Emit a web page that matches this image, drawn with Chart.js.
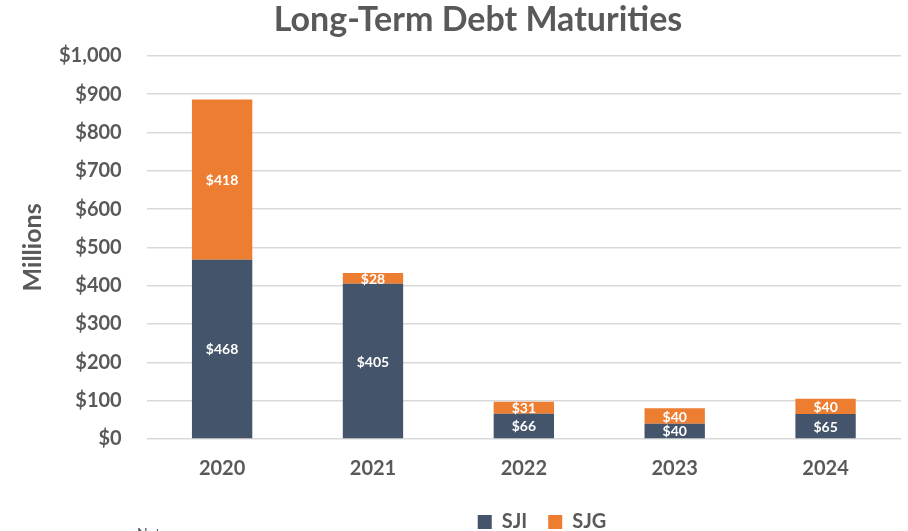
<!DOCTYPE html>
<html>
<head>
<meta charset="utf-8">
<script src="https://cdn.jsdelivr.net/npm/chart.js@4.4.0/dist/chart.umd.min.js"></script>
<style>
  html, body { margin: 0; padding: 0; background: #fff; overflow: hidden; }
  #wrap { position: relative; width: 908px; height: 531px; }
  #note { position: absolute; left: 137px; top: 524px; font: 14px Lato, sans-serif; color: #44546A; }
</style>
</head>
<body>
<div id="wrap">
  <canvas id="debt-chart" width="908" height="531"></canvas>
  <div id="note">Note:</div>
</div>
<script>
var years = ['2020', '2021', '2022', '2023', '2024'];
var sji = [468, 405, 66, 40, 65];
var sjg = [418, 28, 31, 40, 40];
var yTicks = [0, 100, 200, 300, 400, 500, 600, 700, 800, 900, 1000];

var font = 'Lato, "Open Sans", sans-serif';

// draws the $ labels in the middle of each bar segment
var barLabels = {
    id: 'barLabels',
    afterDatasetsDraw: function(chart){
        var ctx = chart.ctx;
        ctx.save();
        ctx.fillStyle = '#fff';
        ctx.font = 'bold 14px ' + font;
        ctx.textAlign = 'center';
        ctx.textBaseline = 'middle';
        chart.data.datasets.forEach(function(ds, i){
            chart.getDatasetMeta(i).data.forEach(function(bar, j){
                var y = (bar.y + bar.base) / 2;
                ctx.fillText('$' + ds.data[j], bar.x, y + 1);
            });
        });
        ctx.restore();
    }
};

// title and legend sit right of the canvas centre in the original
var shiftBlocks = {
    id: 'shiftBlocks',
    afterLayout: function(chart){
        chart.titleBlock.left += 15;
        chart.titleBlock.right += 15;
        chart.legend.left += 79;
        chart.legend.right += 79;
    }
};

var ctx = document.getElementById('debt-chart').getContext('2d');
var data = {
    labels: years,
    datasets: [
        {
            label: 'SJI',
            data: sji,
            backgroundColor: '#44546A',
            categoryPercentage: 1,
            barPercentage: 0.4
        },
        {
            label: 'SJG',
            data: sjg,
            backgroundColor: '#ED7D31',
            categoryPercentage: 1,
            barPercentage: 0.4
        }
    ]
};
var options = {
    responsive: false,
    animation: false,
    layout: { padding: { left: 25, right: 7, top: 0, bottom: -11 } },
    plugins: {
        title: {
            display: true,
            text: 'Long-Term Debt Maturities',
            color: '#595959',
            font: { family: font, size: 34, weight: 'bold' },
            padding: { top: 0, bottom: 15 }
        },
        legend: {
            display: true,
            position: 'bottom',
            labels: {
                color: '#595959',
                font: { family: font, size: 20, weight: 'bold' },
                boxWidth: 14,
                boxHeight: 14,
                padding: 21
            }
        },
        tooltip: { enabled: false }
    },
    scales: {
        x: {
            stacked: true,
            grid: { display: false },
            border: { display: false },
            ticks: {
                color: '#595959',
                font: { family: font, size: 20, weight: 'bold' },
                padding: 10
            }
        },
        y: {
            stacked: true,
            min: 0,
            max: 1000,
            afterBuildTicks: function(axis){
                axis.ticks = yTicks.map(function(v){ return { value: v }; });
            },
            grid: { color: '#d9d9d9', lineWidth: 1.5, drawTicks: false },
            border: { display: false },
            ticks: {
                color: '#595959',
                font: { family: font, size: 20, weight: 'bold' },
                padding: 25,
                callback: function(v){ return '$' + v.toLocaleString('en-US'); }
            },
            title: {
                display: true,
                text: 'Millions',
                color: '#595959',
                font: { family: font, size: 25, weight: 'bold', lineHeight: 0.6 },
                padding: { top: 0, bottom: -6 }
            }
        }
    }
};
var debtChart = new Chart(ctx, {
    type: 'bar',
    data: data,
    options: options,
    plugins: [barLabels, shiftBlocks]
});
</script>
</body>
</html>
